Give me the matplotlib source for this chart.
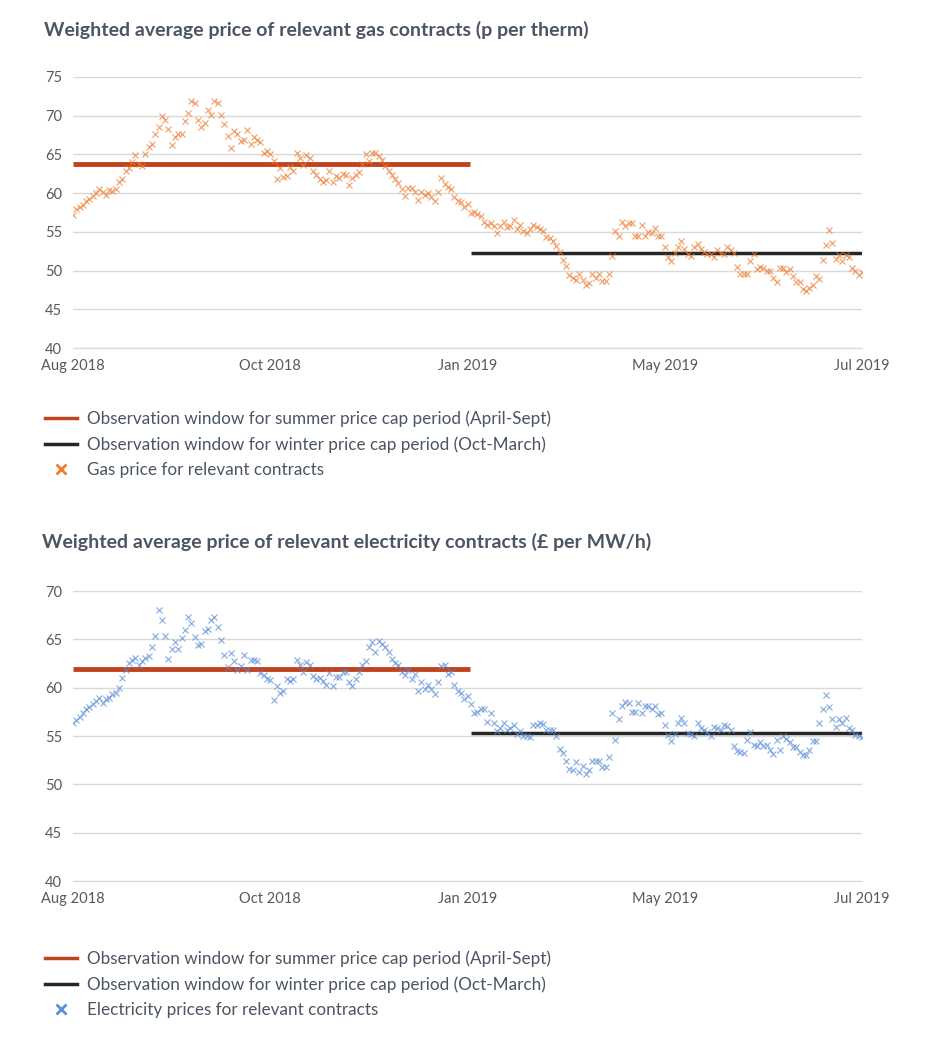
import matplotlib
matplotlib.use("Agg")
import matplotlib.pyplot as plt
from matplotlib.lines import Line2D
import numpy as np

plt.rcParams["font.family"] = ["Lato", "DejaVu Sans"]

# Daily weighted average prices (241 trading points)
gas_price = [
    57.2, 57.9, 58.2, 58.5, 59.0, 59.3, 59.6, 60.0, 60.5, 60.1,
    59.7, 60.4, 60.3, 60.5, 61.4, 61.8, 62.8, 63.3, 64.0, 64.9,
    63.7, 63.5, 65.1, 66.0, 66.3, 67.7, 68.5, 70.0, 69.5, 68.3,
    66.2, 67.2, 67.7, 67.7, 69.3, 70.4, 71.9, 71.7, 69.5, 68.5,
    69.1, 70.7, 70.1, 71.9, 71.7, 70.1, 68.9, 67.4, 65.8, 68.0,
    67.7, 66.7, 66.8, 68.2, 66.4, 67.3, 66.9, 66.6, 65.2, 65.5,
    65.0, 64.1, 61.8, 63.3, 62.1, 62.2, 63.4, 62.8, 65.2, 64.5,
    63.6, 64.9, 64.5, 62.9, 62.3, 61.8, 61.4, 61.7, 62.8, 61.5,
    62.2, 62.0, 62.5, 62.4, 61.0, 62.0, 62.3, 62.7, 63.8, 65.1,
    64.1, 65.2, 65.2, 64.8, 64.3, 63.5, 62.9, 62.3, 61.8, 61.3,
    60.5, 59.6, 60.6, 60.7, 60.2, 59.1, 60.2, 59.7, 60.0, 59.5,
    59.0, 60.2, 62.0, 61.2, 60.8, 60.5, 59.5, 59.0, 58.9, 58.2,
    58.6, 57.4, 57.5, 57.3, 57.1, 56.3, 55.9, 56.2, 55.7, 54.9,
    55.8, 56.3, 55.6, 55.8, 56.5, 55.4, 55.9, 55.1, 54.8, 55.4,
    55.9, 55.6, 55.4, 55.1, 54.4, 54.2, 53.8, 53.2, 52.4, 51.4,
    50.6, 49.4, 49.1, 48.8, 49.5, 48.8, 48.2, 48.4, 49.5, 49.1,
    49.5, 48.6, 48.6, 49.6, 51.9, 55.1, 54.5, 56.3, 55.7, 56.2,
    56.2, 54.5, 54.5, 55.9, 54.5, 55.0, 54.8, 55.5, 54.5, 54.5,
    53.1, 51.7, 51.3, 52.3, 53.1, 53.8, 52.8, 52.1, 51.9, 53.1,
    53.4, 52.8, 52.4, 52.2, 52.1, 51.7, 52.7, 52.3, 52.1, 53.1,
    52.6, 52.3, 50.5, 49.6, 49.6, 49.5, 51.2, 52.1, 50.2, 50.5,
    50.3, 50.0, 50.0, 49.1, 48.5, 50.3, 50.3, 49.8, 50.2, 49.3,
    48.5, 48.5, 47.6, 47.4, 47.7, 48.1, 49.3, 48.9, 51.4, 53.3,
    55.3, 53.5, 51.5, 52.0, 51.2, 52.0, 51.7, 50.3, 50.0, 49.4,
    49.8,
]

elec_price = [
    56.4, 56.7, 57.0, 57.4, 57.8, 58.0, 58.3, 58.6, 58.9, 58.4,
    58.8, 58.9, 59.3, 59.5, 60.0, 61.0, 61.8, 62.6, 62.9, 63.1,
    62.3, 62.8, 63.1, 63.3, 64.2, 65.3, 68.0, 67.0, 65.3, 63.0,
    64.0, 64.7, 64.0, 65.1, 66.0, 67.3, 66.7, 65.2, 64.4, 64.5,
    65.9, 66.1, 67.0, 67.3, 66.3, 64.9, 63.4, 62.1, 63.6, 62.8,
    61.8, 62.2, 63.4, 61.8, 62.9, 62.9, 62.8, 61.5, 61.3, 60.9,
    60.8, 58.7, 60.2, 59.5, 59.7, 60.9, 60.7, 60.9, 62.9, 62.4,
    61.6, 62.7, 62.4, 61.2, 60.9, 61.0, 60.7, 60.3, 61.5, 60.2,
    61.1, 61.1, 61.6, 61.6, 60.6, 60.2, 60.9, 61.6, 62.4, 62.8,
    64.2, 64.7, 63.7, 64.8, 64.5, 64.2, 63.7, 63.0, 62.6, 62.4,
    61.6, 61.3, 61.8, 60.9, 61.4, 59.7, 60.6, 59.9, 60.3, 59.9,
    59.3, 60.6, 62.2, 62.4, 61.4, 61.6, 60.3, 59.7, 59.5, 58.8,
    59.1, 58.3, 57.4, 57.5, 57.8, 57.8, 56.5, 57.4, 56.3, 55.5,
    55.8, 56.3, 55.6, 55.8, 56.1, 55.2, 55.5, 55.0, 55.0, 54.9,
    56.1, 56.1, 56.3, 56.2, 55.6, 55.6, 55.6, 55.0, 53.7, 53.2,
    52.4, 51.6, 51.5, 52.3, 51.3, 51.9, 51.1, 51.5, 52.4, 52.4,
    52.4, 51.8, 51.8, 52.8, 57.4, 54.6, 56.8, 58.1, 58.5, 58.4,
    57.5, 57.5, 58.4, 57.4, 58.1, 58.1, 57.8, 58.1, 57.3, 57.4,
    56.1, 55.1, 54.5, 55.2, 56.4, 56.9, 56.4, 55.3, 55.2, 55.0,
    56.4, 55.8, 55.6, 55.4, 55.0, 55.9, 55.8, 55.6, 56.1, 56.0,
    55.6, 54.0, 53.5, 53.4, 53.2, 54.6, 55.4, 54.1, 54.0, 54.4,
    54.0, 54.1, 53.6, 53.1, 54.6, 53.6, 55.0, 54.7, 54.4, 53.9,
    53.9, 53.4, 53.0, 53.0, 53.6, 54.5, 54.5, 56.4, 57.8, 59.2,
    58.0, 56.8, 55.9, 56.8, 56.4, 56.9, 55.8, 55.6, 55.1, 55.0,
    54.9,
]

tick_labels = ["Aug 2018", "Oct 2018", "Jan 2019", "May 2019", "Jul 2019"]

# observation window averages
gas_summer, gas_winter = 63.7, 52.3
elec_summer, elec_winter = 61.9, 55.3
window_split = 120.8  # index where summer window ends / winter starts

TEXT = "#4b5563"
TICK = "#595959"
GRID = "#d9d9d9"
RED = "#c0431f"
DARK = "#262626"
ORANGE = "#ed7d31"
BLUE = "#5b8fd6"

fig = plt.figure(figsize=(9.46, 10.53), dpi=100)


def price_panel(rect, values, summer, winter, ylim, yticks, color):
    ax = fig.add_axes(rect)
    x = np.arange(len(values))
    ax.set_axisbelow(True)
    ax.grid(axis="y", color=GRID, linewidth=1.0)
    ax.plot(x, values, linestyle="none", marker="x", markersize=4,
            markeredgewidth=0.8, color=color, alpha=0.75, zorder=3)
    ax.hlines(summer, 0, window_split, color=RED, linewidth=3.5, zorder=2)
    ax.hlines(winter, window_split + 0.4, len(values) - 1, color=DARK,
              linewidth=2.5, zorder=2)
    ax.set_xlim(0, len(values) - 1)
    ax.set_ylim(*ylim)
    ax.set_yticks(yticks)
    ax.set_xticks(np.linspace(0, len(values) - 1, len(tick_labels)))
    ax.set_xticklabels(tick_labels)
    ax.tick_params(length=0, labelsize=10.5, labelcolor=TICK, pad=8)
    for side in ("top", "right", "left"):
        ax.spines[side].set_visible(False)
    ax.spines["bottom"].set_color(GRID)
    return ax


price_panel([0.0772, 0.6695, 0.834, 0.2574], gas_price, gas_summer, gas_winter,
            (40, 75), range(40, 76, 5), ORANGE)
price_panel([0.0772, 0.1633, 0.834, 0.2754], elec_price, elec_summer, elec_winter,
            (40, 70), range(40, 71, 5), BLUE)

fig.text(0.046, 0.972, "Weighted average price of relevant gas contracts (p per therm)",
         fontsize=14, fontweight="bold", color=TEXT, va="center")
fig.text(0.044, 0.485, "Weighted average price of relevant electricity contracts (£ per MW/h)",
         fontsize=14, fontweight="bold", color=TEXT, va="center")


def legend_block(top, marker_color, marker_label):
    handles = [
        Line2D([], [], color=RED, linewidth=2.5),
        Line2D([], [], color=DARK, linewidth=2.5),
        Line2D([], [], linestyle="none", marker="x", markersize=7,
               markeredgewidth=2, color=marker_color),
    ]
    labels = [
        "Observation window for summer price cap period (April-Sept)",
        "Observation window for winter price cap period (Oct-March)",
        marker_label,
    ]
    fig.legend(handles, labels, loc="upper left", bbox_to_anchor=(0.040, top),
               frameon=False, fontsize=12.3, labelcolor=TEXT, handlelength=1.9,
               handletextpad=0.6, labelspacing=0.55, borderaxespad=0)


legend_block(0.617, ORANGE, "Gas price for relevant contracts")
legend_block(0.104, BLUE, "Electricity prices for relevant contracts")

fig.savefig("out.png", dpi=100)
